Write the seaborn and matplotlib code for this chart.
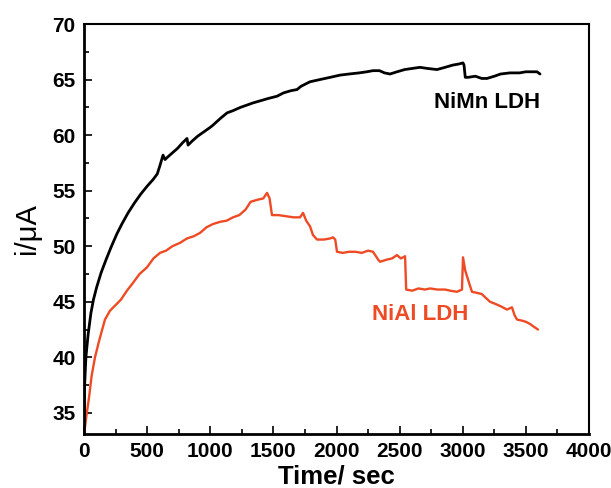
import numpy as np
import pandas as pd
import matplotlib
matplotlib.use("Agg")
import matplotlib.pyplot as plt
from matplotlib.ticker import MultipleLocator
import seaborn as sns

# NiMn LDH (black)
nimn_t = [0, 5, 15, 32, 55, 75, 100, 135, 175, 214, 260, 300, 349, 400, 450, 500,
          547, 580, 600, 626, 642, 660, 700, 740, 780, 816, 824, 860, 900, 950, 1000,
          1022, 1080, 1133, 1180, 1240, 1290, 1339, 1400, 1460, 1529, 1580, 1640, 1687,
          1720, 1790, 1869, 1950, 2028, 2100, 2180, 2240, 2289, 2340, 2380, 2424, 2480,
          2540, 2600, 2661, 2720, 2796, 2860, 2920, 2970, 3002, 3010, 3020, 3042, 3100,
          3150, 3192, 3250, 3300, 3374, 3450, 3500, 3560, 3588, 3612]
nimn_i = [33.5, 37.5, 40.0, 42.0, 44.0, 45.2, 46.3, 47.6, 48.8, 49.9, 51.1, 52.0, 53.0,
          53.9, 54.7, 55.4, 56.0, 56.5, 57.2, 58.2, 57.8, 58.0, 58.4, 58.8, 59.3, 59.7,
          59.1, 59.5, 59.9, 60.3, 60.7, 60.9, 61.5, 62.0, 62.2, 62.5, 62.7, 62.9, 63.1,
          63.3, 63.5, 63.8, 64.0, 64.1, 64.4, 64.8, 65.0, 65.2, 65.4, 65.5, 65.6, 65.7,
          65.8, 65.8, 65.6, 65.5, 65.7, 65.9, 66.0, 66.1, 66.0, 65.9, 66.1, 66.3, 66.4,
          66.5, 66.3, 65.2, 65.2, 65.3, 65.1, 65.1, 65.3, 65.5, 65.6, 65.6, 65.7, 65.7,
          65.7, 65.5]

# NiAl LDH (red)
nial_t = [0, 2, 20, 40, 60, 87, 120, 166, 206, 250, 293, 340, 388, 440, 499, 550, 602,
          650, 700, 760, 816, 870, 919, 970, 1022, 1080, 1130, 1180, 1230, 1280, 1320,
          1380, 1420, 1450, 1470, 1489, 1540, 1600, 1660, 1711, 1735, 1760, 1790, 1814,
          1846, 1900, 1950, 1972, 1990, 2004, 2050, 2100, 2150, 2200, 2250, 2289, 2330,
          2345, 2400, 2440, 2479, 2510, 2543, 2552, 2600, 2650, 2700, 2741, 2800, 2860,
          2900, 2954, 2994, 3002, 3020, 3050, 3073, 3113, 3150, 3216, 3260, 3300, 3350,
          3390, 3410, 3430, 3470, 3500, 3533, 3570, 3596]
nial_i = [39.1, 33.2, 34.8, 36.4, 38.3, 40.0, 41.5, 43.4, 44.2, 44.7, 45.2, 46.0, 46.7,
          47.5, 48.1, 48.9, 49.4, 49.6, 50.0, 50.3, 50.7, 50.9, 51.2, 51.7, 52.0, 52.2,
          52.3, 52.6, 52.8, 53.3, 54.0, 54.2, 54.3, 54.8, 54.3, 52.8, 52.8, 52.7, 52.6,
          52.6, 53.0, 52.3, 51.8, 51.0, 50.6, 50.6, 50.7, 50.8, 50.6, 49.5, 49.4, 49.5,
          49.5, 49.4, 49.6, 49.5, 48.8, 48.6, 48.8, 48.9, 49.2, 48.9, 49.1, 46.1, 46.0,
          46.2, 46.1, 46.2, 46.1, 46.1, 46.0, 45.9, 46.1, 49.0, 47.8, 46.7, 45.9, 45.8,
          45.7, 45.0, 44.8, 44.6, 44.3, 44.5, 43.8, 43.4, 43.3, 43.2, 43.0, 42.7, 42.5]

labels = ["NiMn LDH", "NiAl LDH"]
colors = ["#000000", "#EE4A24"]

sns.set_style("ticks")
plt.rcParams["font.family"] = ["Liberation Sans", "DejaVu Sans"]
plt.rcParams["text.color"] = "black"
plt.rcParams["axes.labelcolor"] = "black"
plt.rcParams["xtick.color"] = "black"
plt.rcParams["ytick.color"] = "black"

fig = plt.figure(figsize=(6.11, 4.88), dpi=100)
ax = fig.add_axes([84 / 611, 1 - 434 / 488, (589 - 84) / 611, (434 - 24) / 488])

df_mn = pd.DataFrame({"t": nimn_t, "i": nimn_i})
df_al = pd.DataFrame({"t": nial_t, "i": nial_i})
sns.lineplot(data=df_mn, x="t", y="i", ax=ax, color=colors[0], lw=2.0,
             sort=False, estimator=None)
sns.lineplot(data=df_al, x="t", y="i", ax=ax, color=colors[1], lw=1.7,
             sort=False, estimator=None)

ax.set_xlim(0, 4000)
ax.set_ylim(33.1, 70)
ax.xaxis.set_major_locator(MultipleLocator(500))
ax.xaxis.set_minor_locator(MultipleLocator(250))
ax.yaxis.set_major_locator(MultipleLocator(5))
ax.yaxis.set_minor_locator(MultipleLocator(2.5))
ax.tick_params(which="both", direction="in", top=False, right=False, width=1.2,
               colors="black")
ax.tick_params(which="major", length=6, labelsize=15, pad=6)
ax.tick_params(which="minor", length=3.5)
for lab in ax.get_xticklabels() + ax.get_yticklabels():
    lab.set_fontweight("bold")

for side in ["left", "bottom"]:
    ax.spines[side].set_linewidth(2.0)
for side in ["top", "right"]:
    ax.spines[side].set_linewidth(1.5)
for s in ax.spines.values():
    s.set_color("black")

ax.set_xlabel("Time/ sec", fontsize=18.5, fontweight="bold", labelpad=2, color="black")
ax.set_ylabel("i/\u03bcA", fontsize=21, labelpad=8, color="black")

ax.text(3612, 62.45, labels[0], color=colors[0], fontsize=16, fontweight="bold",
        ha="right", va="baseline")
ax.text(2281, 43.4, labels[1], color=colors[1], fontsize=16, fontweight="bold",
        ha="left", va="baseline")

fig.savefig("out.png", dpi=100)
